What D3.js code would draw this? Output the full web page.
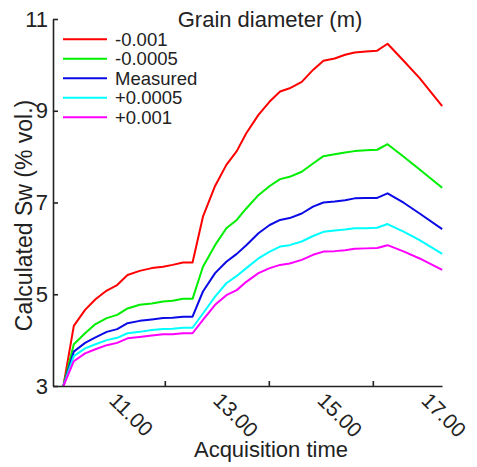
<!DOCTYPE html>
<html><head><meta charset="utf-8">
<script src="https://cdn.jsdelivr.net/npm/d3@7"></script>
<style>
html,body{margin:0;padding:0;background:#fff;}
svg{display:block;font-family:"Liberation Sans",Arial,sans-serif;}
</style></head>
<body><svg id="chart" width="477" height="467"></svg>
<script>
const times = ["10:03","10:15","10:28","10:40","10:53","11:05","11:17","11:31","11:45","11:58","12:09","12:21","12:32","12:44","12:58","13:11","13:23","13:34","13:48","14:01","14:13","14:24","14:38","14:51","15:03","15:16","15:28","15:39","15:52","16:05","16:17","16:36","16:54","17:20"];
const seriesNames = ["-0.001","-0.0005","Measured","+0.0005","+0.001"];
const seriesColors = ["#ff0000","#00ee00","#0a0ae6","#00ffff","#ff00ff"];
const sMinus1 = [3.00,4.31,4.66,4.89,5.08,5.20,5.42,5.51,5.57,5.60,5.64,5.69,5.69,6.69,7.36,7.82,8.12,8.51,8.91,9.20,9.42,9.49,9.63,9.89,10.09,10.14,10.22,10.27,10.29,10.31,10.46,10.08,9.71,9.10];
const sMinus05 = [3.00,3.91,4.15,4.35,4.48,4.55,4.69,4.77,4.80,4.84,4.86,4.90,4.90,5.60,6.07,6.44,6.62,6.87,7.16,7.36,7.51,7.56,7.67,7.85,8.01,8.05,8.09,8.12,8.14,8.15,8.27,7.99,7.72,7.32];
const sMeasured = [3.00,3.75,3.94,4.06,4.18,4.24,4.37,4.42,4.45,4.48,4.49,4.51,4.51,5.06,5.46,5.71,5.88,6.07,6.33,6.51,6.62,6.66,6.76,6.91,7.00,7.02,7.05,7.09,7.10,7.10,7.20,6.99,6.76,6.42];
const sPlus05 = [3.00,3.65,3.82,3.91,4.00,4.05,4.15,4.18,4.22,4.24,4.25,4.27,4.27,4.58,4.95,5.24,5.40,5.57,5.78,5.93,6.04,6.07,6.15,6.27,6.36,6.39,6.41,6.44,6.44,6.45,6.53,6.36,6.18,5.88];
const sPlus1 = [3.00,3.54,3.71,3.80,3.89,3.94,4.04,4.07,4.10,4.13,4.13,4.15,4.15,4.44,4.77,4.98,5.09,5.27,5.46,5.57,5.64,5.67,5.75,5.86,5.93,5.94,5.96,5.99,6.00,6.01,6.07,5.93,5.78,5.53];
const allSeries = [sMinus1,sMinus05,sMeasured,sPlus05,sPlus1];
const yTicks = [3,5,7,9,11];
const xTickHours = [12,14,16];
const xLabelHours = [11,13,15,17];
const xLabels = ["11.00","13.00","15.00","17.00"];
const xDomain = [9.85,17.33];
const yDomain = [3,11];

const toHours = s => { const [h,m] = s.split(":").map(Number); return h + m/60; };
const hours = times.map(toHours);

const svg = d3.select("#chart");
const L = 53, R = 442, T = 19, B = 386;
const x = d3.scaleLinear().domain(xDomain).range([L,R]);
const y = d3.scaleLinear().domain(yDomain).range([B,T]);
const ink = "#222";

const line = d3.line().x((d,i)=>x(hours[i])).y(d=>y(d));
allSeries.forEach((s,k)=>{
  svg.append("path").datum(s).attr("d",line)
    .attr("fill","none").attr("stroke",seriesColors[k]).attr("stroke-width",2)
    .attr("stroke-linejoin","round");
});

// axes
const yAxis = d3.axisLeft(y).tickValues(yTicks).tickSize(-5).tickSizeOuter(0).tickPadding(5).tickFormat(d3.format("d"));
const gy = svg.append("g").attr("transform",`translate(${L},0)`).call(yAxis);
const xAxis = d3.axisBottom(x).tickValues(xTickHours).tickSize(-5).tickSizeOuter(0).tickFormat("");
const gx = svg.append("g").attr("transform",`translate(0,${B})`).call(xAxis);
[gx,gy].forEach(g=>{
  g.selectAll("path,line").attr("stroke",ink).attr("stroke-width",1.6);
  g.selectAll("text").attr("fill",ink).attr("font-size",22).attr("font-family","Liberation Sans, Arial, sans-serif");
});

// rotated x labels
svg.append("g").selectAll("text").data(xLabelHours).join("text")
  .attr("transform",d=>`translate(${x(d)+6},${B+5}) rotate(45)`)
  .attr("text-anchor","start").attr("dy","0.72em")
  .attr("font-size",21).attr("fill",ink)
  .text((d,i)=>xLabels[i]);

// axis titles
svg.append("text").attr("x",271).attr("y",457).attr("text-anchor","middle")
  .attr("font-size",22).attr("fill",ink).text("Acquisition time");
svg.append("text").attr("transform",`translate(32,${(T+B)/2+13}) rotate(-90)`)
  .attr("text-anchor","middle").attr("font-size",23).attr("fill",ink)
  .text("Calculated Sw (% vol.)");

// legend
svg.append("text").attr("x",270).attr("y",27).attr("text-anchor","middle")
  .attr("font-size",22).attr("fill",ink).text("Grain diameter (m)");
const lg = svg.append("g");
seriesNames.forEach((n,k)=>{
  const yy = 39.3 + k*19.5;
  lg.append("line").attr("x1",63).attr("x2",107).attr("y1",yy).attr("y2",yy)
    .attr("stroke",seriesColors[k]).attr("stroke-width",2);
  lg.append("text").attr("x",115).attr("y",yy).attr("dy","0.35em")
    .attr("font-size",18.5).attr("fill",ink).text(n);
});
</script></body></html>
